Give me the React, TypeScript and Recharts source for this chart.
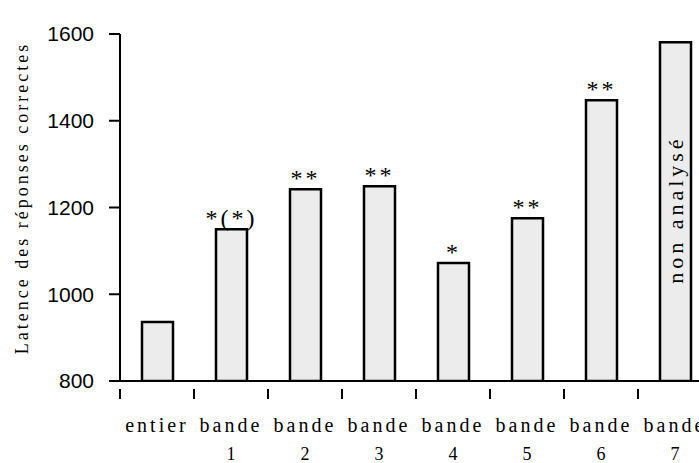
import { ComposedChart, Bar, XAxis, YAxis, LabelList } from "recharts";

const categories = ["entier", "bande 1", "bande 2", "bande 3", "bande 4", "bande 5", "bande 6", "bande 7"];
const latency = [936, 1150, 1242, 1249, 1072, 1175, 1447, 1581];
const significance = ["", "*(*)", "**", "**", "*", "**", "**", "non analysé"];
const yTicks = [800, 1000, 1200, 1400, 1600];

const chartData = categories.map(function (name, i) {
  return { name, latency: latency[i], mark: significance[i] };
});

const FONT = "'Liberation Serif', serif";

function CategoryTick(props: any) {
  const { x, y, payload } = props;
  const parts = String(payload.value).split(" ");
  const half = 37;
  return (
    <g>
      <line x1={x - half} y1={y} x2={x - half} y2={y + 10} stroke="#000" strokeWidth={2} />
      <text x={x} y={y + 43} textAnchor="middle" fontFamily={FONT} fontSize={20} letterSpacing={3} fill="#000">
        {parts[0]}
      </text>
      {parts[1] && (
        <text x={x} y={y + 71} textAnchor="middle" fontFamily={FONT} fontSize={18} fill="#000">
          {parts[1]}
        </text>
      )}
    </g>
  );
}

function MarkLabel(props: any) {
  const { x, y, width, height, value } = props;
  if (!value) return null;
  const cx = x + width / 2;
  // long note goes vertically inside the bar
  if (value.length > 4) {
    const cy = y + height / 2 - 2;
    return (
      <text
        x={cx}
        y={cy}
        transform={`rotate(-90 ${cx} ${cy})`}
        textAnchor="middle"
        dominantBaseline="central"
        fontFamily={FONT}
        fontSize={22}
        letterSpacing={4}
        fill="#000"
      >
        {value}
      </text>
    );
  }
  return (
    <text x={cx} y={y - 3} textAnchor="middle" fontFamily={FONT} fontSize={24} letterSpacing={3} fill="#000">
      {value}
    </text>
  );
}

function YLabel() {
  const cx = 22;
  const cy = 198;
  return (
    <text
      x={cx}
      y={cy}
      transform={`rotate(-90 ${cx} ${cy})`}
      textAnchor="middle"
      dominantBaseline="central"
      fontFamily={FONT}
      fontSize={18}
      letterSpacing={3}
      fill="#000"
    >
      Latence des réponses correctes
    </text>
  );
}

export default function App() {
  return (
    <div style={{ position: "absolute", left: 0, top: 0, width: 699, height: 463, overflow: "hidden", background: "#fff" }}>
      <ComposedChart
        width={720}
        height={463}
        data={chartData}
        margin={{ top: 34, right: 8, left: 0, bottom: 0 }}
        barCategoryGap={0}
      >
        <XAxis
          dataKey="name"
          height={82}
          axisLine={{ stroke: "#000", strokeWidth: 2 }}
          tickLine={false}
          tick={<CategoryTick />}
          interval={0}
        />
        <YAxis
          width={120}
          domain={[800, 1600]}
          ticks={yTicks}
          allowDataOverflow
          axisLine={{ stroke: "#000", strokeWidth: 2 }}
          tickLine={{ stroke: "#000", strokeWidth: 2 }}
          tickSize={11}
          tickMargin={15}
          tick={{ fill: "#000", fontSize: 21, fontFamily: "'Liberation Sans', sans-serif" }}
          label={<YLabel />}
        />
        <Bar
          dataKey="latency"
          barSize={31}
          fill="#ececec"
          stroke="#000"
          strokeWidth={2.5}
          isAnimationActive={false}
        >
          <LabelList dataKey="mark" content={<MarkLabel />} />
        </Bar>
      </ComposedChart>
    </div>
  );
}
